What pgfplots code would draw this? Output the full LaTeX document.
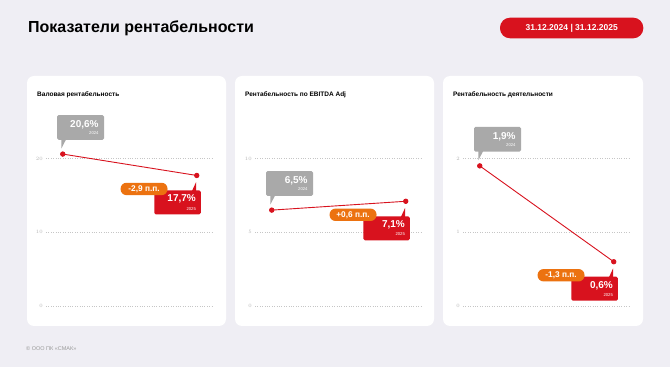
\documentclass[border=0pt]{standalone}
\usepackage{fontspec}
\setmainfont{Liberation Sans}
\usepackage{pgfplots}
\pgfplotsset{compat=1.18}
\usetikzlibrary{calc}
\definecolor{bg}{HTML}{EFEEF4}
\definecolor{cred}{HTML}{D8121E}
\definecolor{cgray}{HTML}{A9A9A9}
\definecolor{corange}{HTML}{EC7210}
\definecolor{ctick}{HTML}{B5B5B5}
\newcommand{\fs}[1]{\fontsize{#1}{#1}\selectfont}
\pgfplotsset{panel/.style={scale only axis, width=167.5pt, height=147.5pt,
  xmin=-0.125, xmax=1.125, ymin=0, clip=false, axis line style={draw=none},
  xtick=\empty, ymajorgrids, grid style={dotted, gray!45, line width=0.5pt},
  major tick length=0pt, yticklabel style={font=\fs{4.5}, text=ctick, inner sep=0pt, xshift=-3pt},
  anchor=south west}}
\newcommand{\callouts}[5]{%
 \fill[cgray, rounded corners=1.5pt] ($(#1)+(-5.7,14.3)$) rectangle ($(#1)+(41.3,39)$);
 \fill[cgray] ($(#1)+(-1.3,5.7)$) -- ($(#1)+(-1.3,15)$) -- ($(#1)+(3.5,15)$) -- cycle;
 \node[anchor=base east, inner sep=0pt, text=white, font=\bfseries\fs{10}] at ($(#1)+(36,26.7)$) {#3};
 \node[anchor=base east, inner sep=0pt, text=white, font=\fs{4.2}] at ($(#1)+(36,19.3)$) {2024};
 \fill[cred, rounded corners=1.5pt] ($(#2)+(-42.4,-39)$) rectangle ($(#2)+(4,-15)$);
 \fill[cred] ($(#2)+(-0.7,-6.7)$) -- ($(#2)+(-0.7,-16)$) -- ($(#2)+(-5,-16)$) -- cycle;
 \node[anchor=base east, inner sep=0pt, text=white, font=\bfseries\fs{10}] at ($(#2)+(-0.7,-26.3)$) {#4};
 \node[anchor=base east, inner sep=0pt, text=white, font=\fs{4.2}] at ($(#2)+(-0.7,-34.7)$) {2025};
 \node[anchor=east, fill=corange, rounded corners=6pt, minimum height=12.4pt, minimum width=47pt, inner sep=0pt, text=white, font=\bfseries\fs{8.3}] at ($(#2)+(-29,-13.5)$) {#5};
}
\begin{document}
\begin{tikzpicture}[x=1pt,y=1pt]
\fill[bg] (0,0) rectangle (670,367);
\node[anchor=base west, inner sep=0pt, font=\bfseries\fs{16}] at (28,334.3) {Показатели рентабельности};
\fill[cred, rounded corners=10pt] (500,328.7) rectangle (643.3,349.3);
\node[anchor=base, inner sep=0pt, text=white, font=\bfseries\fs{8.5}] at (571.7,336.3) {31.12.2024 | 31.12.2025};
\node[anchor=base west, inner sep=0pt, text=gray!80, font=\fs{5.5}] at (26,16.5) {© ООО ПК «СМАК»};
% panels
\fill[white, rounded corners=7pt] (27,41) rectangle (226,291);
\fill[white, rounded corners=7pt] (235,41) rectangle (434,291);
\fill[white, rounded corners=7pt] (443,41) rectangle (643,291);
\node[anchor=base west, inner sep=0pt, font=\bfseries\fs{6.5}] at (37,270.5) {Валовая рентабельность};
\node[anchor=base west, inner sep=0pt, font=\bfseries\fs{6.5}] at (245,270.5) {Рентабельность по EBITDA Adj};
\node[anchor=base west, inner sep=0pt, font=\bfseries\fs{6.5}] at (453,270.5) {Рентабельность деятельности};
% panel 1
\begin{axis}[panel, at={(46pt,61pt)}, ymax=20, ytick={0,10,20}]
\addplot[cred, line width=0.9pt, mark=*, mark size=2.2pt] coordinates {(0,20.6) (1,17.7)};
\coordinate (A1) at (axis cs:0,20.6);
\coordinate (B1) at (axis cs:1,17.7);
\end{axis}
% panel 2
\begin{axis}[panel, at={(255pt,61pt)}, ymax=10, ytick={0,5,10}]
\addplot[cred, line width=0.9pt, mark=*, mark size=2.2pt] coordinates {(0,6.5) (1,7.1)};
\coordinate (A2) at (axis cs:0,6.5);
\coordinate (B2) at (axis cs:1,7.1);
\end{axis}
% panel 3
\begin{axis}[panel, at={(463pt,61pt)}, ymax=2, ytick={0,1,2}]
\addplot[cred, line width=0.9pt, mark=*, mark size=2.2pt] coordinates {(0,1.9) (1,0.6)};
\coordinate (A3) at (axis cs:0,1.9);
\coordinate (B3) at (axis cs:1,0.6);
\end{axis}
\callouts{A1}{B1}{20,6\%}{17,7\%}{-2,9 п.п.}
\callouts{A2}{B2}{6,5\%}{7,1\%}{+0,6 п.п.}
\callouts{A3}{B3}{1,9\%}{0,6\%}{-1,3 п.п.}
\end{tikzpicture}
\end{document}
